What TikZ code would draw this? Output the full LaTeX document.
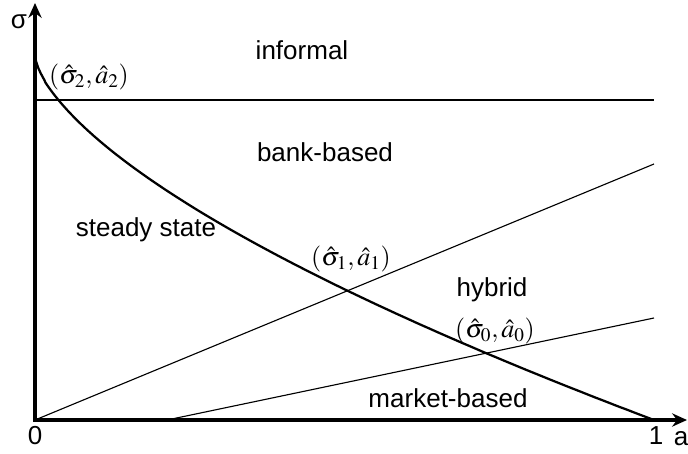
\documentclass[tikz,border=0pt]{standalone}
\usepackage{mathptmx}
\usepackage[no-math]{fontspec}
\newfontfamily\labelfont{Liberation Sans}
\usetikzlibrary{arrows.meta}

\begin{document}
\begin{tikzpicture}[
                x=0.025cm, y=0.025cm,
                >={Stealth[length=3.7mm, width=3.3mm]},
                every node/.style={font=\labelfont\fontsize{18.5}{20}\selectfont, inner sep=0pt},
                axis/.style={line width=2.2pt, <->, line join=miter},
                border/.style={line width=0.8pt},
                locus/.style={line width=1.6pt}
            ]
                \useasboundingbox (-35,-33) rectangle (653,420);
                \coordinate (O) at (0,0);
                \coordinate (ytop) at (0,417);
                \coordinate (xend) at (652,0);
                \coordinate (infl) at (0,320);
                \coordinate (infr) at (619,320);
                \coordinate (bankr) at (619,256);
                \coordinate (mktl) at (132,0);
                \coordinate (mktr) at (619,102);
                \draw[border] (infl) -- (infr);
                \draw[border] (O) -- (bankr);
                \draw[border] (mktl) -- (mktr);
                \draw[locus] plot[domain=0.002:1, samples=150, smooth] ({619*\x*\x}, {365*(1-\x^1.28)});
                \draw[axis] (ytop) -- (O) -- (xend);
                \node (sigma) at (-16,398) {σ};
                \node (p2) at (54,343) {$(\hat{\sigma}_2,\hat{a}_2)$};
                \node (informal) at (267,370) {informal};
                \node (bank) at (290,268) {bank-based};
                \node (steady) at (111,190) {steady state};
                \node (p1) at (316,161) {$(\hat{\sigma}_1,\hat{a}_1)$};
                \node (hybrid) at (457,130) {hybrid};
                \node (p0) at (460,89) {$(\hat{\sigma}_0,\hat{a}_0)$};
                \node (market) at (413,22) {market-based};
                \node (zero) at (0,-16) {0};
                \node (one) at (621,-16) {1};
                \node (alabel) at (646,-19) {a};
            \end{tikzpicture}
\end{document}
